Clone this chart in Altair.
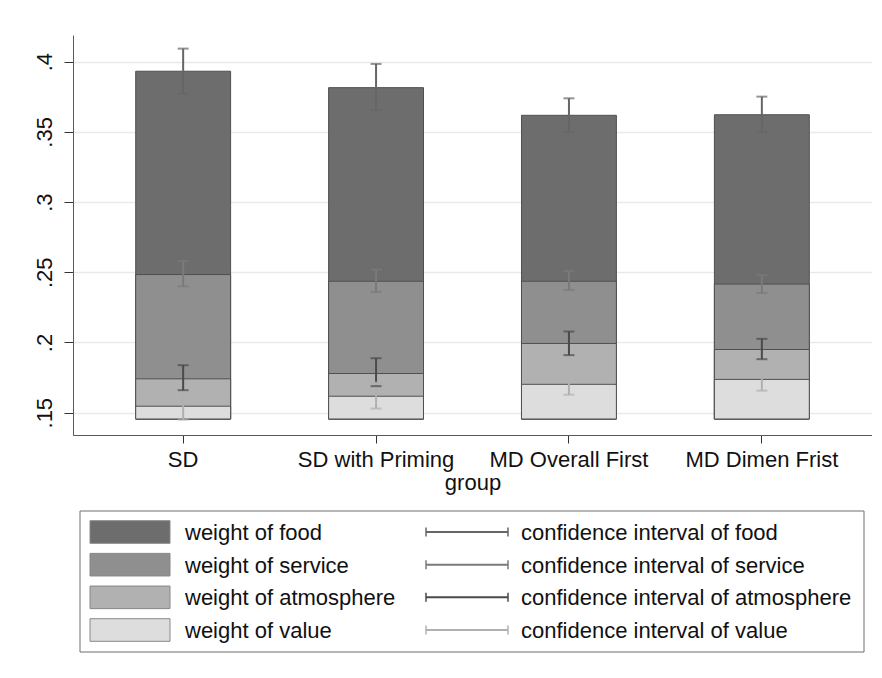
import altair as alt
import pandas as pd

# ---------------- data ----------------
groups = ["SD", "SD with Priming", "MD Overall First", "MD Dimen Frist"]
series = ["food", "service", "atmosphere", "value"]

food = [0.3932, 0.3815, 0.3618, 0.3622]
food_lo = [0.3772, 0.3656, 0.3500, 0.3500]
food_hi = [0.4093, 0.3984, 0.3739, 0.3751]

service = [0.2484, 0.2436, 0.2436, 0.2416]
service_lo = [0.2400, 0.2360, 0.2374, 0.2353]
service_hi = [0.2580, 0.2519, 0.2509, 0.2479]

atmosphere = [0.1741, 0.1779, 0.1993, 0.1950]
atmosphere_lo = [0.1660, 0.1689, 0.1910, 0.1881]
atmosphere_hi = [0.1838, 0.1888, 0.2078, 0.2026]

value = [0.1546, 0.1617, 0.1702, 0.1737]
value_lo = [0.1450, 0.1529, 0.1628, 0.1657]
value_hi = [0.1642, 0.1714, 0.1776, 0.1801]

bar_base = 0.1455
y_ticks = [0.15, 0.2, 0.25, 0.3, 0.35, 0.4]

weight_labels = ["weight of food", "weight of service",
                 "weight of atmosphere", "weight of value"]
ci_labels = ["confidence interval of food", "confidence interval of service",
             "confidence interval of atmosphere", "confidence interval of value"]

bar_colors = ["#6d6d6d", "#8f8f8f", "#b1b1b1", "#dddddd"]
ci_colors = ["#666666", "#7a7a7a", "#4a4a4a", "#b0b0b0"]

FONT = "Liberation Sans"
FS = 22

tops = {"food": food, "service": service, "atmosphere": atmosphere, "value": value}
los = {"food": food_lo, "service": service_lo, "atmosphere": atmosphere_lo, "value": value_lo}
his = {"food": food_hi, "service": service_hi, "atmosphere": atmosphere_hi, "value": value_hi}

rows = []
for si, s in enumerate(series):
    for gi, g in enumerate(groups):
        rows.append(dict(group=g, series=s, z=si, top=tops[s][gi],
                         lo=los[s][gi], hi=his[s][gi], base=bar_base))
df = pd.DataFrame(rows)

fill_scale = alt.Scale(domain=series, range=bar_colors)
ci_scale = alt.Scale(domain=series, range=ci_colors)
y_scale = alt.Scale(domain=[0.1341, 0.419], nice=False, zero=False)

x_enc = alt.X(
    "group:N", sort=groups,
    scale=alt.Scale(paddingInner=0.508, paddingOuter=0.325),
    axis=alt.Axis(title="group", labelAngle=0, labelOverlap=False, tickSize=8,
                  labelPadding=6, titlePadding=2, grid=False),
)
y_axis = alt.Axis(values=y_ticks, labelExpr="substring(format(datum.value, '.2~f'), 1)",
                  labelAngle=270, labelAlign="center", labelBaseline="alphabetic",
                  labelPadding=13, tickSize=9, title=None, grid=True,
                  gridColor="#e9e9e9", gridWidth=1.5)

bars = alt.Chart(df).mark_bar(stroke="#505050", strokeWidth=1).encode(
    x=x_enc,
    y=alt.Y("top:Q", scale=y_scale, axis=y_axis),
    y2="base:Q",
    fill=alt.Fill("series:N", scale=fill_scale, legend=None),
    order=alt.Order("z:Q"),
)
ci_x = alt.X("group:N", sort=groups)
rules = alt.Chart(df).mark_rule(strokeWidth=2).encode(
    x=ci_x, y="lo:Q", y2="hi:Q",
    color=alt.Color("series:N", scale=ci_scale, legend=None),
)
caps_lo = alt.Chart(df).mark_tick(size=11, thickness=2).encode(
    x=ci_x, y="lo:Q", color=alt.Color("series:N", scale=ci_scale, legend=None))
caps_hi = alt.Chart(df).mark_tick(size=11, thickness=2).encode(
    x=ci_x, y="hi:Q", color=alt.Color("series:N", scale=ci_scale, legend=None))

main = alt.layer(bars, rules, caps_lo, caps_hi).properties(width=799, height=400)

# ---------------- legend panel ----------------
LW, LH = 799, 141
leg = pd.DataFrame(dict(series=series, row=[0, 1, 2, 3],
                        wlabel=weight_labels, clabel=ci_labels))
lx = alt.Scale(domain=[0, LW], nice=False, zero=False)
ly = alt.Scale(domain=[0, LH], nice=False, zero=False, reverse=True)

base_leg = alt.Chart(leg).transform_calculate(
    cy="21 + 32.67 * datum.row",
    sy1="21 + 32.67 * datum.row - 11.3",
    sy2="21 + 32.67 * datum.row + 11.3",
    c1="21 + 32.67 * datum.row - 4.5",
    c2="21 + 32.67 * datum.row + 4.5",
    sx1="17", sx2="97", tx="112", cx1="353", cx2="435", ctx="448",
)

box = alt.Chart(pd.DataFrame(dict(a=[7], b=[791], c=[0], d=[LH]))).mark_rect(
    fill="white", stroke="#6e6e6e", strokeWidth=1).encode(
    x=alt.X("a:Q", scale=lx, axis=None), x2="b:Q",
    y=alt.Y("c:Q", scale=ly, axis=None), y2="d:Q")

swatch = base_leg.mark_rect(stroke="#888888", strokeWidth=1).encode(
    x=alt.X("sx1:Q", scale=lx, axis=None), x2="sx2:Q",
    y=alt.Y("sy1:Q", scale=ly, axis=None), y2="sy2:Q",
    fill=alt.Fill("series:N", scale=fill_scale, legend=None))

wtext = base_leg.mark_text(align="left", baseline="alphabetic", dy=8,
                           font=FONT, fontSize=FS, color="#111111").encode(
    x=alt.X("tx:Q", scale=lx, axis=None),
    y=alt.Y("cy:Q", scale=ly, axis=None), text="wlabel:N")

ci_line = base_leg.mark_rule(strokeWidth=2).encode(
    x=alt.X("cx1:Q", scale=lx, axis=None), x2="cx2:Q",
    y=alt.Y("cy:Q", scale=ly, axis=None),
    color=alt.Color("series:N", scale=ci_scale, legend=None))
ci_cap1 = base_leg.mark_rule(strokeWidth=1.5).encode(
    x=alt.X("cx1:Q", scale=lx, axis=None),
    y=alt.Y("c1:Q", scale=ly, axis=None), y2="c2:Q",
    color=alt.Color("series:N", scale=ci_scale, legend=None))
ci_cap2 = base_leg.mark_rule(strokeWidth=1.5).encode(
    x=alt.X("cx2:Q", scale=lx, axis=None),
    y=alt.Y("c1:Q", scale=ly, axis=None), y2="c2:Q",
    color=alt.Color("series:N", scale=ci_scale, legend=None))

ctext = base_leg.mark_text(align="left", baseline="alphabetic", dy=8,
                           font=FONT, fontSize=FS, color="#111111").encode(
    x=alt.X("ctx:Q", scale=lx, axis=None),
    y=alt.Y("cy:Q", scale=ly, axis=None), text="clabel:N")

legend = alt.layer(box, swatch, wtext, ci_line, ci_cap1, ci_cap2, ctext).properties(
    width=LW, height=LH)

chart = alt.vconcat(main, legend, spacing=76, bounds="flush").properties(
    padding={"left": 24, "top": 27, "right": 0, "bottom": 5},
    background="white",
).configure_view(stroke=None).configure_axis(
    labelFont=FONT, labelFontSize=FS, labelColor="#111111",
    titleFont=FONT, titleFontSize=FS, titleFontWeight="normal", titleColor="#111111",
    domainColor="#5a5a5a", domainWidth=1, tickColor="#333333", tickWidth=1,
)

chart.save("out.html", embed_options={"renderer": "svg", "actions": False})
